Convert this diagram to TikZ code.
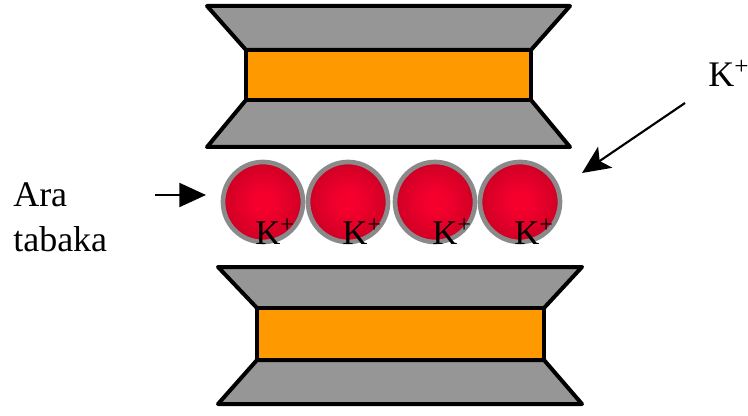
\documentclass[tikz,border=0pt]{standalone}
\usepackage{fontspec}
\setmainfont{Liberation Serif}
\usetikzlibrary{arrows.meta}

\definecolor{plategray}{RGB}{150,150,150}
\definecolor{coreorange}{RGB}{255,153,0}
\definecolor{ringgray}{RGB}{138,138,138}
\definecolor{ballin}{RGB}{245,0,45}
\definecolor{ballmid}{RGB}{200,0,35}
\definecolor{ballout}{RGB}{135,0,18}
\pgfdeclareradialshading{ionball}{\pgfpoint{0bp}{0bp}}{%
  color(0bp)=(ballin); color(6bp)=(ballin); color(28bp)=(ballmid); color(50bp)=(ballout)}

\begin{document}
\begin{tikzpicture}[x=0.75pt, y=-0.75pt,
  plate/.style={fill=plategray, draw=black, line width=3pt, line join=round},
  corebar/.style={fill=coreorange, draw=black, line width=3pt},
  ion/.style={circle, inner sep=0pt, minimum size=60pt, shading=ionball,
    draw=ringgray, line width=3.5pt},
  ionlbl/.style={anchor=base west, inner sep=0pt, text=black,
    font=\fontsize{26}{26}\selectfont},
  sidelbl/.style={anchor=base west, inner sep=0pt, align=left,
    font=\fontsize{27}{34}\selectfont},
  pointer/.style={line width=1.6pt}]

\useasboundingbox (0,0) rectangle (748,416);

% upper electrode: two trapezoids around an orange bar
\draw[plate] (207,6) -- (570,6) -- (531,50) -- (246,50) -- cycle;
\draw[plate] (246,100) -- (531,100) -- (570,147) -- (207,147) -- cycle;
\draw[corebar] (246,50) rectangle (531,100);

% lower electrode
\draw[plate] (218,267) -- (582,267) -- (544,308) -- (257,308) -- cycle;
\draw[plate] (257,360) -- (544,360) -- (582,404) -- (218,404) -- cycle;
\draw[corebar] (257,308) rectangle (544,360);

% row of potassium ions between the electrodes
\node[ion] (ion1) at (263,202) {};
\node[ion] (ion2) at (348,202) {};
\node[ion] (ion3) at (435,202) {};
\node[ion] (ion4) at (520,202) {};

\node[ionlbl] (lbl1) at (255,245) {K\textsuperscript{+}};
\node[ionlbl] (lbl2) at (342,245) {K\textsuperscript{+}};
\node[ionlbl] (lbl3) at (432,245) {K\textsuperscript{+}};
\node[ionlbl] (lbl4) at (514,245) {K\textsuperscript{+}};

% side labels
\node[sidelbl] (layer) at (13,252) {Ara\\tabaka};
\node[sidelbl] (kion) at (708,87) {K\textsuperscript{+}};

% pointers
\coordinate (laystart) at (155,195);
\coordinate (layend) at (206,195);
\coordinate (kstart) at (685,103);
\coordinate (kend) at (582,173);
\draw[pointer, -{Triangle[length=20pt, width=18pt]}] (laystart) -- (layend);
\draw[pointer, -{Stealth[length=21pt, width=19pt, inset=5pt]}] (kstart) -- (kend);
\end{tikzpicture}
\end{document}
